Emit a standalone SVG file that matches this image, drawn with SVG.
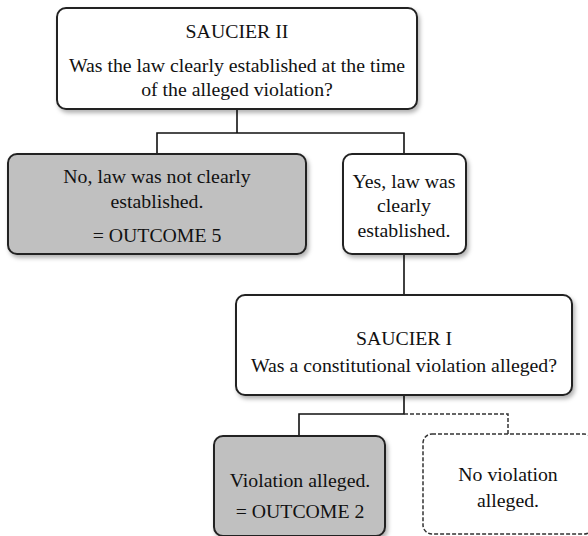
<svg xmlns="http://www.w3.org/2000/svg" width="588" height="536" viewBox="0 0 588 536">
<defs>
<filter id="sh" x="-10%" y="-10%" width="130%" height="140%">
<feDropShadow dx="2" dy="3" stdDeviation="2" flood-color="#000" flood-opacity="0.3"/>
</filter>
<style>
.box{fill:#fff;stroke:#222;stroke-width:2}
.grey{fill:#c0c0c0}
.dash{fill:#fff;stroke:#333;stroke-width:1.5;stroke-dasharray:4 2}
.t{font-family:"Liberation Serif","DejaVu Serif",serif;font-size:19.8px;fill:#111;text-anchor:middle}
.c{fill:none;stroke:#111;stroke-width:1.6}
.cd{fill:none;stroke:#333;stroke-width:1.5;stroke-dasharray:4 2}
</style>
</defs>
<g id="connectors">
<polyline class="c" points="237,109 237,133"/>
<polyline class="c" points="157,154 157,133 404,133 404,154"/>
<polyline class="c" points="404,254 404,295"/>
<polyline class="c" points="404,395 404,414 299,414 299,436"/>
<polyline class="cd" points="404,414 508,414 508,434"/>
</g>
<g id="saucier2">
<rect class="box" x="57" y="8" width="360" height="101" rx="9" filter="url(#sh)"/>
<text class="t" x="237" y="38">SAUCIER II</text>
<text class="t" x="237" y="72">Was the law clearly established at the time</text>
<text class="t" x="237" y="96">of the alleged violation?</text>
</g>
<g id="outcome5">
<rect class="box grey" x="8" y="154" width="298" height="100" rx="9" filter="url(#sh)"/>
<text class="t" x="157" y="183">No, law was not clearly</text>
<text class="t" x="157" y="208">established.</text>
<text class="t" x="157" y="242">= OUTCOME 5</text>
</g>
<g id="yes">
<rect class="box" x="343" y="154" width="123" height="100" rx="9" filter="url(#sh)"/>
<text class="t" x="404" y="188">Yes, law was</text>
<text class="t" x="404" y="212">clearly</text>
<text class="t" x="404" y="237">established.</text>
</g>
<g id="saucier1">
<rect class="box" x="236" y="295" width="336" height="100" rx="9" filter="url(#sh)"/>
<text class="t" x="404" y="345">SAUCIER I</text>
<text class="t" x="404" y="372">Was a constitutional violation alleged?</text>
</g>
<g id="outcome2">
<rect class="box grey" x="214" y="436" width="171" height="100" rx="9" filter="url(#sh)"/>
<text class="t" x="300" y="487">Violation alleged.</text>
<text class="t" x="300" y="518">= OUTCOME 2</text>
</g>
<g id="noviolation">
<rect class="dash" x="423" y="434" width="170" height="100" rx="9"/>
<text class="t" x="508" y="481">No violation</text>
<text class="t" x="508" y="507">alleged.</text>
</g>
</svg>
